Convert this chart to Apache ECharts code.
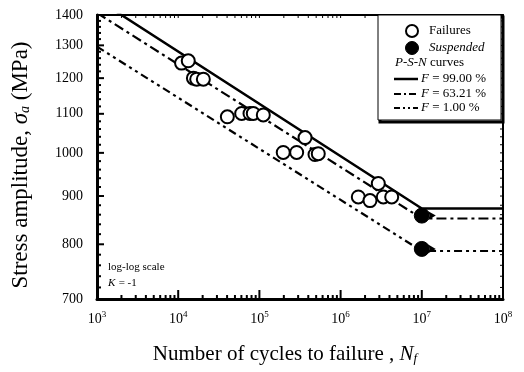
<!DOCTYPE html>
<html><head><meta charset="utf-8">
<script src="https://cdn.jsdelivr.net/npm/echarts@6/dist/echarts.min.js"></script>
<style>html,body{margin:0;padding:0;background:#fff}#c{width:524px;height:372px}</style>
</head><body><div id="c"></div>
<script>
// ---- data ----
const failN = [11000, 13300, 15400, 16900, 20400, 40300, 60500, 76600, 84100, 111700, 364800, 196600, 287700, 484000, 531000, 2912000, 1652000, 2302000, 3357000, 4259000];
const failS = [1245, 1252, 1200, 1197, 1197, 1092, 1101, 1101, 1101, 1097, 1038, 1001, 1001, 996, 998, 928, 898, 890, 898, 898];
const suspN = [1e7, 1e7];
const suspS = [858, 791];
const curveN = [1e3, 1e7, 1e8];
const curve99 = [1455, 873, 873];
const curve63 = [1407, 852, 852];
const curve01 = [1296, 787, 787];
const xMajor = [1e3, 1e4, 1e5, 1e6, 1e7, 1e8];
const xExp = ['3', '4', '5', '6', '7', '8'];
const yMajor = [700, 800, 900, 1000, 1100, 1200, 1300, 1400];
const yLabels = ['700', '800', '900', '1000', '1100', '1200', '1300', '1400'];

// minor tick positions
const xMinor = [];
for (let e = 3; e < 8; e++) for (let m = 2; m <= 9; m++) xMinor.push(m * Math.pow(10, e));
const yMinor = [];
for (let v = 720; v < 1400; v += 20) if (v % 100 !== 0) yMinor.push(v);

const zip = (a, b) => a.map((v, i) => [v, b[i]]);
const FONT = 'Liberation Serif';
const black = '#000';
const X0 = 1e3, X1 = 1e8, Y0 = 700, Y1 = 1400;

const chart = echarts.init(document.getElementById('c'), null, {renderer: 'canvas'});

function xFmt(val) {
  for (let i = 0; i < xMajor.length; i++) {
    if (Math.abs(Math.log10(xMajor[i]) - Math.log10(val)) < 1e-6) return '{b|10}{s|' + xExp[i] + '}';
  }
  return '';
}
function yFmt(val) {
  for (let i = 0; i < yMajor.length; i++) if (Math.abs(yMajor[i] - val) < 1e-6) return yLabels[i];
  return '';
}

function xTickRender(params, api) {
  const v = api.value(0), major = api.value(2);
  const pb = api.coord([v, Y0]);
  const pt = api.coord([v, Y1]);
  const len = major ? 9 : 4;
  return {type: 'group', children: [
    {type: 'line', shape: {x1: pb[0], y1: pb[1], x2: pb[0], y2: pb[1] - len}, style: {stroke: black, lineWidth: 2}},
    {type: 'line', shape: {x1: pt[0], y1: pt[1], x2: pt[0], y2: pt[1] + 3}, style: {stroke: black, lineWidth: 1}}
  ]};
}
function yTickRender(params, api) {
  const v = api.value(1), major = api.value(2);
  const pl = api.coord([X0, v]);
  const pr = api.coord([X1, v]);
  const len = major ? 7 : 4;
  return {type: 'group', children: [
    {type: 'line', shape: {x1: pl[0], y1: pl[1], x2: pl[0] + len, y2: pl[1]}, style: {stroke: black, lineWidth: 2}},
    {type: 'line', shape: {x1: pr[0], y1: pr[1], x2: pr[0] - 3, y2: pr[1]}, style: {stroke: black, lineWidth: 1}}
  ]};
}

const baseX = {type: 'log', logBase: 10, min: X0, max: X1, splitLine: {show: false}, minorTick: {show: false}, axisTick: {show: false}};
const baseY = {type: 'log', logBase: 10, min: Y0, max: Y1, splitLine: {show: false}, minorTick: {show: false}, axisTick: {show: false}};
const legendRich = {i: {fontFamily: FONT, fontStyle: 'italic', fontSize: 13, fill: black}, n: {fontFamily: FONT, fontSize: 13, fill: black}};

chart.setOption({
  animation: false,
  backgroundColor: '#fff',
  grid: {left: 97, right: 21, top: 15, bottom: 73},
  xAxis: [
    Object.assign({}, baseX, {
      position: 'bottom',
      axisLine: {lineStyle: {color: black, width: 3}},
      axisLabel: {customValues: xMajor, formatter: xFmt, margin: 11, color: black,
        rich: {b: {fontFamily: FONT, fontSize: 14, color: black, verticalAlign: 'bottom', lineHeight: 16},
               s: {fontFamily: FONT, fontSize: 9, color: black, verticalAlign: 'top', lineHeight: 9}}},
      name: '{n|Number of cycles to failure , }{i|N}{sub|f}',
      nameLocation: 'middle', nameGap: 43,
      nameTextStyle: {padding: [0, 30, 0, 0], rich: {
        n: {fontFamily: FONT, fontSize: 21, color: black, lineHeight: 23, verticalAlign: 'bottom'},
        i: {fontFamily: FONT, fontSize: 21, fontStyle: 'italic', color: black, lineHeight: 23, verticalAlign: 'bottom'},
        sub: {fontFamily: FONT, fontSize: 13, fontStyle: 'italic', color: black, lineHeight: 13, verticalAlign: 'bottom'}}}
    }),
    Object.assign({}, baseX, {
      position: 'top',
      axisLine: {lineStyle: {color: black, width: 2}},
      axisLabel: {show: false}
    })
  ],
  yAxis: [
    Object.assign({}, baseY, {
      position: 'left',
      axisLine: {lineStyle: {color: black, width: 3}},
      axisLabel: {customValues: yMajor, formatter: yFmt, margin: 14, color: black, fontFamily: FONT, fontSize: 14},
      name: '{n|Stress amplitude, }{i|σ}{sub|a}{n| (MPa)}',
      nameLocation: 'middle', nameGap: 65, nameRotate: 90,
      nameTextStyle: {padding: [0, 16, 0, 0], rich: {
        n: {fontFamily: FONT, fontSize: 23, color: black, lineHeight: 25, verticalAlign: 'bottom'},
        i: {fontFamily: FONT, fontSize: 23, fontStyle: 'italic', color: black, lineHeight: 25, verticalAlign: 'bottom'},
        sub: {fontFamily: FONT, fontSize: 14, fontStyle: 'italic', color: black, lineHeight: 14, verticalAlign: 'bottom'}}}
    }),
    Object.assign({}, baseY, {
      position: 'right',
      axisLine: {lineStyle: {color: black, width: 2}},
      axisLabel: {show: false}
    })
  ],
  series: [
    {name: 'xTicks', type: 'custom', clip: false, silent: true, z: 5,
     data: xMajor.map(v => [v, Y0, 1]).concat(xMinor.map(v => [v, Y0, 0])), renderItem: xTickRender},
    {name: 'yTicks', type: 'custom', clip: false, silent: true, z: 5,
     data: yMajor.map(v => [X0, v, 1]).concat(yMinor.map(v => [X0, v, 0])), renderItem: yTickRender},
    {name: 'F = 99.00 %', type: 'line', data: zip(curveN, curve99), symbol: 'none', clip: true, z: 2,
     lineStyle: {color: black, width: 2.5, type: 'solid'}},
    {name: 'F = 63.21 %', type: 'line', data: zip(curveN, curve63), symbol: 'none', clip: true, z: 2,
     lineStyle: {color: black, width: 2.2, type: [10, 4, 3, 4]}},
    {name: 'F = 1.00 %', type: 'line', data: zip(curveN, curve01), symbol: 'none', clip: true, z: 2,
     lineStyle: {color: black, width: 2.2, type: [8, 4, 3, 4, 3, 4]}},
    {name: 'Failures', type: 'scatter', data: zip(failN, failS), symbol: 'circle', symbolSize: 13, z: 3,
     itemStyle: {color: '#fff', borderColor: black, borderWidth: 2, opacity: 1}},
    {name: 'Suspended', type: 'scatter', data: zip(suspN, suspS), symbol: 'circle', symbolSize: 15, z: 4,
     itemStyle: {color: black, borderColor: black, borderWidth: 1, opacity: 1}},
    {name: 'Runout', type: 'scatter', data: zip(suspN, suspS), symbol: 'arrow', symbolSize: [7, 8], symbolRotate: -90,
     symbolOffset: [14, 0], z: 4, itemStyle: {color: black, opacity: 1}}
  ],
  graphic: [
    // legend box
    {type: 'rect', shape: {x: 380, y: 17, width: 123, height: 105}, style: {fill: 'none', stroke: black, lineWidth: 3}, z: 10},
    {type: 'rect', shape: {x: 378, y: 15, width: 123, height: 105}, style: {fill: '#fff', stroke: black, lineWidth: 1}, z: 11},
    {type: 'circle', shape: {cx: 412, cy: 31, r: 6}, style: {fill: '#fff', stroke: black, lineWidth: 2}, z: 12},
    {type: 'text', x: 429, y: 31, style: {text: 'Failures', fontFamily: FONT, fontSize: 13, fill: black, verticalAlign: 'middle'}, z: 12},
    {type: 'circle', shape: {cx: 412, cy: 48, r: 6.5}, style: {fill: black, stroke: black, lineWidth: 1}, z: 12},
    {type: 'text', x: 429, y: 48, style: {text: 'Suspended', fontFamily: FONT, fontStyle: 'italic', fontSize: 13, fill: black, verticalAlign: 'middle'}, z: 12},
    {type: 'text', x: 395, y: 63, style: {text: '{i|P-S-N} {n|curves}', verticalAlign: 'middle', rich: legendRich}, z: 12},
    {type: 'line', shape: {x1: 394, y1: 79, x2: 418, y2: 79}, style: {stroke: black, lineWidth: 2.5}, z: 12},
    {type: 'text', x: 421, y: 79, style: {text: '{i|F} {n|= 99.00 %}', verticalAlign: 'middle', rich: legendRich}, z: 12},
    {type: 'line', shape: {x1: 394, y1: 94, x2: 418, y2: 94}, style: {stroke: black, lineWidth: 2.2, lineDash: [7, 3, 2, 3]}, z: 12},
    {type: 'text', x: 421, y: 94, style: {text: '{i|F} {n|= 63.21 %}', verticalAlign: 'middle', rich: legendRich}, z: 12},
    {type: 'line', shape: {x1: 394, y1: 108, x2: 418, y2: 108}, style: {stroke: black, lineWidth: 2.2, lineDash: [6, 3, 2, 3, 2, 3]}, z: 12},
    {type: 'text', x: 421, y: 108, style: {text: '{i|F} {n|= 1.00 %}', verticalAlign: 'middle', rich: legendRich}, z: 12},
    // annotation
    {type: 'text', x: 108, y: 267, style: {text: 'log-log scale', fontFamily: FONT, fontSize: 11, fill: black, verticalAlign: 'middle'}, z: 12},
    {type: 'text', x: 108, y: 283, style: {text: '{i|K} {n|= -1}', verticalAlign: 'middle',
      rich: {i: {fontFamily: FONT, fontStyle: 'italic', fontSize: 11, fill: black}, n: {fontFamily: FONT, fontSize: 11, fill: black}}}, z: 12}
  ]
});
</script>
</body></html>
